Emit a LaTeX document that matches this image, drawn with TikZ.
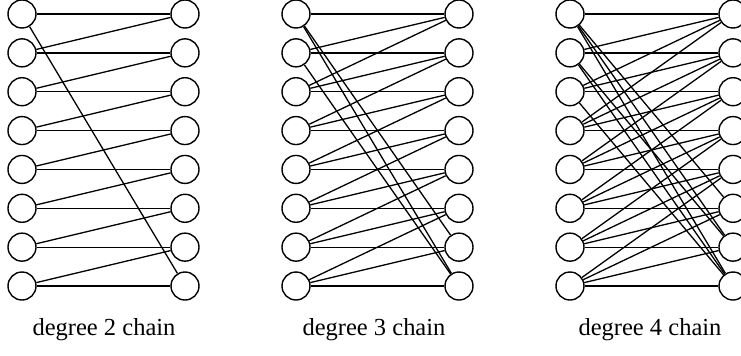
\documentclass[tikz,border=0pt]{standalone}
\usepackage{fontspec}
\setmainfont{Liberation Serif}
\begin{document}
\begin{tikzpicture}[x=0.5pt,y=-0.5pt,
    vert/.style={draw,circle,fill=white,minimum size=14pt,inner sep=0pt,line width=0.7pt},
    edge/.style={line width=0.65pt},
    caption/.style={font=\fontsize{12.25}{14}\selectfont}]
    \useasboundingbox (0,0) rectangle (741,356);
    % left and right columns of each chain
    \foreach \g/\lx in {2/22,3/296,4/570} {
        \foreach \i in {0,...,7} {
            \node[vert] (l\g-\i) at (\lx,14+38.86*\i) {};
            \node[vert] (r\g-\i) at (\lx+163,14+38.86*\i) {};
        }
    }
    % left i goes to right i, i-1, ... (mod 8)
    \foreach \g in {2,3,4} {
        \foreach \i in {0,...,7} {
            \foreach \k in {1,...,\g} {
                \pgfmathtruncatemacro\j{mod(\i-\k+9,8)}
                \draw[edge] (l\g-\i) -- (r\g-\j);
            }
        }
    }
    \node[caption] (cap2) at (104,330) {degree 2 chain};
    \node[caption] (cap3) at (374,330) {degree 3 chain};
    \node[caption] (cap4) at (650,330) {degree 4 chain};
\end{tikzpicture}
\end{document}
